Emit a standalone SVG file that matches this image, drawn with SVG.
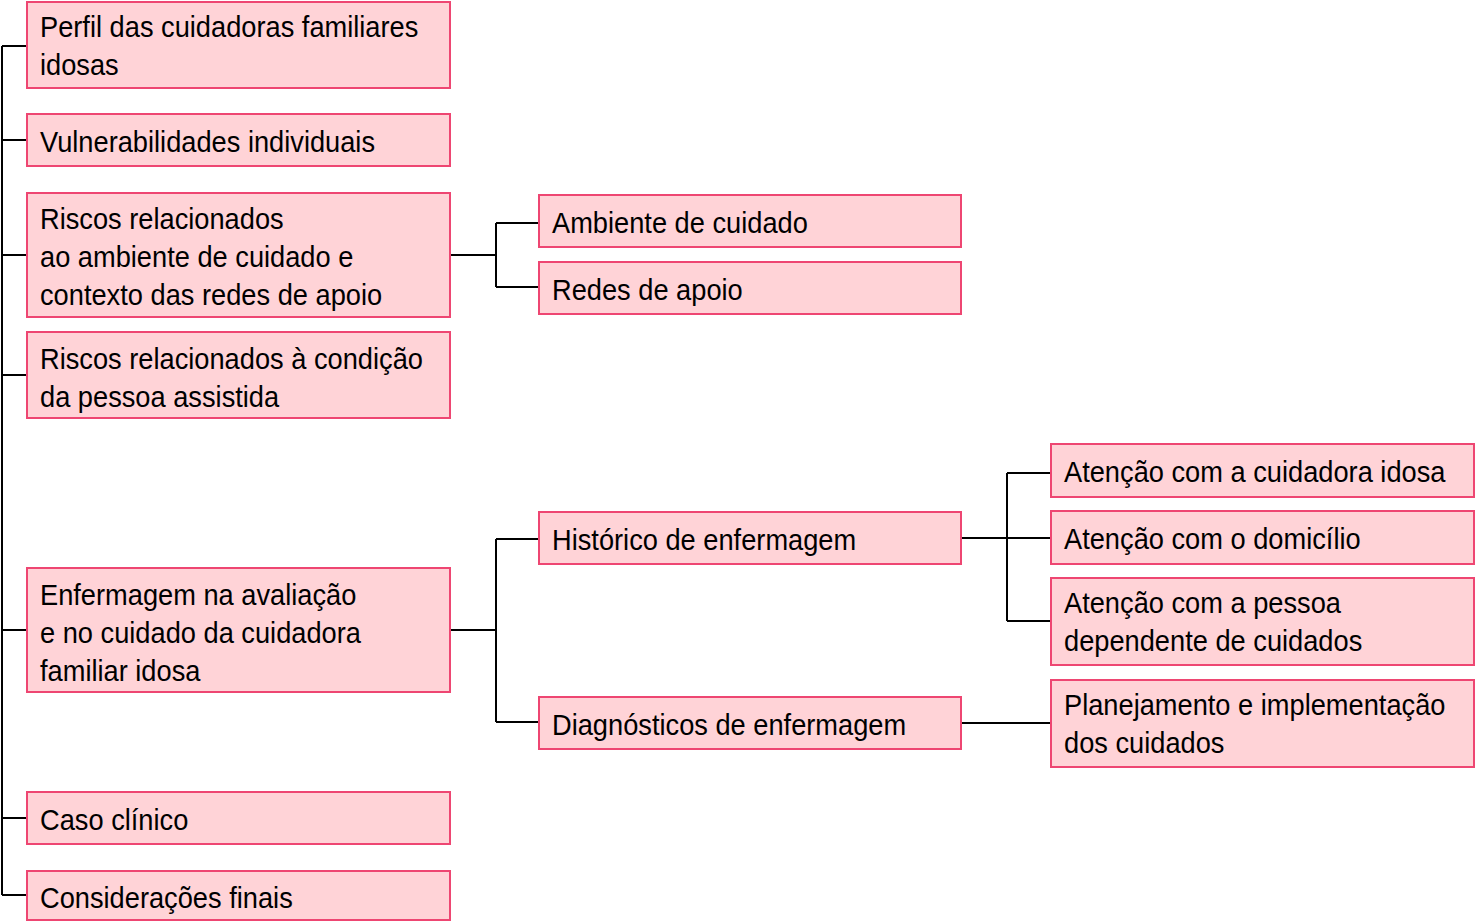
<svg xmlns="http://www.w3.org/2000/svg" width="1475" height="922" viewBox="0 0 1475 922">
<style>
.box{fill:#FFD3D7;stroke:#EE4672;stroke-width:2}
.t{font-family:"Liberation Sans",Arial,sans-serif;font-size:30px;fill:#000}
.c{fill:none;stroke:#000;stroke-width:2}
</style>
<rect width="1475" height="922" fill="#fff"/>
<g id="connectors">
<path class="c" d="M2,46V895M2,46H27M2,140H27M2,255H27M2,375H27M2,630H27M2,818H27M2,895H27"/>
<path class="c" d="M450,255H496M496,223V287M496,223H539M496,287H539"/>
<path class="c" d="M450,630H496M496,539V722M496,539H539M496,722H539"/>
<path class="c" d="M961,538H1051M1007,473V621M1007,473H1051M1007,621H1051"/>
<path class="c" d="M961,723H1051"/>
</g>
<g id="n1"><rect class="box" x="27" y="2" width="423" height="86"/><text class="t" transform="matrix(0.908 0 0 1 40 0)"><tspan x="0" y="37">Perfil das cuidadoras familiares</tspan><tspan x="0" y="75">idosas</tspan></text></g>
<g id="n2"><rect class="box" x="27" y="114" width="423" height="52"/><text class="t" transform="matrix(0.908 0 0 1 40 0)"><tspan x="0" y="152">Vulnerabilidades individuais</tspan></text></g>
<g id="n3"><rect class="box" x="27" y="193" width="423" height="124"/><text class="t" transform="matrix(0.908 0 0 1 40 0)"><tspan x="0" y="229">Riscos relacionados</tspan><tspan x="0" y="267">ao ambiente de cuidado e</tspan><tspan x="0" y="305">contexto das redes de apoio</tspan></text></g>
<g id="n4"><rect class="box" x="27" y="332" width="423" height="86"/><text class="t" transform="matrix(0.908 0 0 1 40 0)"><tspan x="0" y="369">Riscos relacionados à condição</tspan><tspan x="0" y="407">da pessoa assistida</tspan></text></g>
<g id="n5"><rect class="box" x="27" y="568" width="423" height="124"/><text class="t" transform="matrix(0.908 0 0 1 40 0)"><tspan x="0" y="605">Enfermagem na avaliação</tspan><tspan x="0" y="643">e no cuidado da cuidadora</tspan><tspan x="0" y="681">familiar idosa</tspan></text></g>
<g id="n6"><rect class="box" x="27" y="792" width="423" height="52"/><text class="t" transform="matrix(0.908 0 0 1 40 0)"><tspan x="0" y="830">Caso clínico</tspan></text></g>
<g id="n7"><rect class="box" x="27" y="871" width="423" height="49"/><text class="t" transform="matrix(0.908 0 0 1 40 0)"><tspan x="0" y="908">Considerações finais</tspan></text></g>
<g id="n8"><rect class="box" x="539" y="195" width="422" height="52"/><text class="t" transform="matrix(0.908 0 0 1 552 0)"><tspan x="0" y="233">Ambiente de cuidado</tspan></text></g>
<g id="n9"><rect class="box" x="539" y="262" width="422" height="52"/><text class="t" transform="matrix(0.908 0 0 1 552 0)"><tspan x="0" y="300">Redes de apoio</tspan></text></g>
<g id="n10"><rect class="box" x="539" y="512" width="422" height="52"/><text class="t" transform="matrix(0.908 0 0 1 552 0)"><tspan x="0" y="550">Histórico de enfermagem</tspan></text></g>
<g id="n11"><rect class="box" x="539" y="697" width="422" height="52"/><text class="t" transform="matrix(0.908 0 0 1 552 0)"><tspan x="0" y="735">Diagnósticos de enfermagem</tspan></text></g>
<g id="n12"><rect class="box" x="1051" y="444" width="423" height="53"/><text class="t" transform="matrix(0.908 0 0 1 1064 0)"><tspan x="0" y="482">Atenção com a cuidadora idosa</tspan></text></g>
<g id="n13"><rect class="box" x="1051" y="511" width="423" height="53"/><text class="t" transform="matrix(0.908 0 0 1 1064 0)"><tspan x="0" y="549">Atenção com o domicílio</tspan></text></g>
<g id="n14"><rect class="box" x="1051" y="578" width="423" height="87"/><text class="t" transform="matrix(0.908 0 0 1 1064 0)"><tspan x="0" y="613">Atenção com a pessoa</tspan><tspan x="0" y="651">dependente de cuidados</tspan></text></g>
<g id="n15"><rect class="box" x="1051" y="680" width="423" height="87"/><text class="t" transform="matrix(0.908 0 0 1 1064 0)"><tspan x="0" y="715">Planejamento e implementação</tspan><tspan x="0" y="753">dos cuidados</tspan></text></g>
</svg>
